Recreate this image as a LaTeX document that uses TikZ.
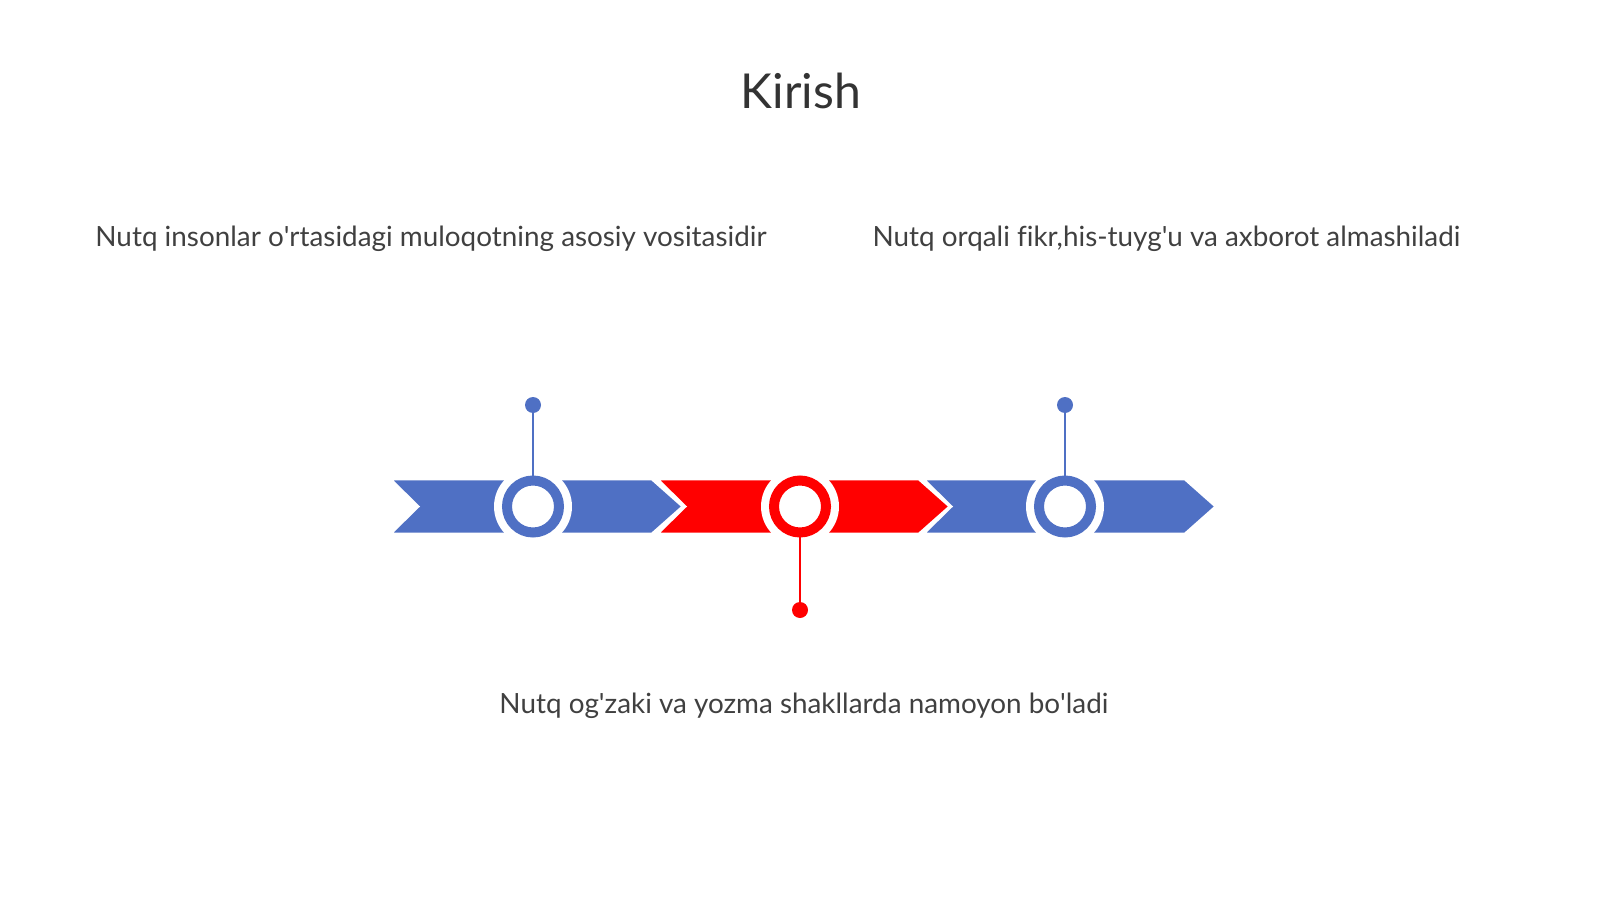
\documentclass[tikz,border=0pt]{standalone}
\usepackage{fontspec}
\setmainfont{Lato}
\usepackage{tikz}

\definecolor{chevblue}{RGB}{79,112,196}
\definecolor{chevred}{RGB}{255,0,0}
\definecolor{txtgray}{RGB}{64,64,64}
\newcommand{\apos}{\textquotesingle}

\begin{document}
\begin{tikzpicture}[x=0.02cm, y=-0.02cm,
    halo/.style={circle, fill=white, minimum size=1.56cm, inner sep=0pt},
    ring/.style={circle, draw=#1, line width=0.2cm, fill=white, minimum size=1.04cm, inner sep=0pt},
    dot/.style={circle, fill=#1, minimum size=0.32cm, inner sep=0pt},
    stem/.style={draw=#1, line width=1.2pt},
    chev/.style={fill=#1, draw=white, line width=1.6pt, line join=miter},
    label/.style={anchor=base, text=txtgray, font=\fontsize{15.85}{19}\selectfont}]
	\useasboundingbox (0,0) rectangle (1600,899);
	% title
	\node[anchor=base, text=txtgray!80!black, font=\fontsize{27.4}{31}\selectfont] (title) at (801,108) {Kirish};
	% chevrons
	\foreach \x/\c in {390/chevblue, 657/chevred, 923/chevblue}
		\path[chev=\c] (\x,479) -- (\x+262,479) -- (\x+293,506.5) -- (\x+262,534) -- (\x,534) -- (\x+28,506.5) -- cycle;
	% rings
	\node[halo] at (533,506.5) {};
	\node[halo] at (800,506.5) {};
	\node[halo] at (1065,506.5) {};
	\node[ring=chevblue] (r1) at (533,506.5) {};
	\node[ring=chevred] (r2) at (800,506.5) {};
	\node[ring=chevblue] (r3) at (1065,506.5) {};
	% stems
	\node[dot=chevblue] (d1) at (533,405) {};
	\node[dot=chevred] (d2) at (800,610) {};
	\node[dot=chevblue] (d3) at (1065,405) {};
	\draw[stem=chevblue] (d1) -- (r1);
	\draw[stem=chevred] (d2) -- (r2);
	\draw[stem=chevblue] (d3) -- (r3);
	% texts
	\node[label] (t1) at (431,246) {Nutq insonlar o\apos rtasidagi muloqotning asosiy vositasidir};
	\node[label] (t2) at (1166.5,246) {Nutq orqali f\kern0pt ikr,his-tuyg\apos u va axborot almashiladi};
	\node[label] (t3) at (804,713) {Nutq og\apos zaki va yozma shakllarda namoyon bo\apos ladi};
\end{tikzpicture}
\end{document}
